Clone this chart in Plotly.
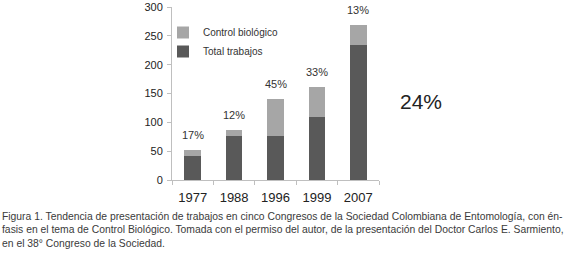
import plotly.graph_objects as go

years = ["1977", "1988", "1996", "1999", "2007"]
total_trabajos = [42, 77, 77, 109, 234]
control_biologico = [10, 10, 63, 53, 34]
porcentajes = ["17%", "12%", "45%", "33%", "13%"]
y_ticks = [0, 50, 100, 150, 200, 250, 300]

caption = ("Figura 1. Tendencia de presentación de trabajos en cinco Congresos de la Sociedad Colombiana de Entomología, con én-<br>"
           "fasis en el tema de Control Biológico. Tomada con el permiso del autor, de la presentación del Doctor Carlos E. Sarmiento,<br>"
           "en el 38° Congreso de la Sociedad.")

L, R, T, B = 172, 201, 7, 84
PW, PH = 580 - L - R, 264 - T - B


def px(x):
    return (x - L) / PW


def py(y):
    return (264 - B - y) / PH


fig = go.Figure()
fig.add_trace(go.Bar(x=years, y=total_trabajos, name="Total trabajos",
                     marker=dict(color="#595959", line=dict(width=0))))
fig.add_trace(go.Bar(x=years, y=control_biologico, name="Control biológico",
                     marker=dict(color="#a6a6a6", line=dict(width=0))))

tops = [a + b for a, b in zip(total_trabajos, control_biologico)]
for i, (top, p) in enumerate(zip(tops, porcentajes)):
    fig.add_annotation(x=i, y=top, text=p, showarrow=False, yanchor="bottom",
                       yshift=7, font=dict(size=11, color="#333333", family="Liberation Sans"))

fig.add_annotation(xref="paper", yref="paper", x=px(421), y=py(101), text="24%",
                   showarrow=False, xanchor="center", yanchor="middle",
                   font=dict(size=21, color="#222222", family="Liberation Sans"))

fig.add_annotation(xref="paper", yref="paper", x=px(0), y=py(209), text=caption,
                   showarrow=False, xanchor="left", yanchor="top", align="left",
                   font=dict(size=10.35, color="#3a3a3a", family="Liberation Sans"))

fig.update_layout(
    width=580, height=264,
    margin=dict(l=L, r=R, t=T, b=B, autoexpand=False),
    barmode="stack", bargap=0.6,
    paper_bgcolor="white", plot_bgcolor="white",
    showlegend=True,
    legend=dict(x=px(163), y=py(18), xanchor="left", yanchor="top",
                traceorder="reversed", bgcolor="rgba(0,0,0,0)",
                font=dict(size=10, color="#333333", family="Liberation Sans"),
                itemwidth=30, tracegroupgap=0),
    xaxis=dict(type="category", range=[-0.5, 4.5], automargin=False,
               showline=True, linecolor="#bfbfbf",
               ticks="outside", tickson="boundaries", ticklen=4, tickcolor="#bfbfbf",
               ticklabelstandoff=5,
               tickfont=dict(size=13, color="#222222", family="Liberation Sans"),
               showgrid=False),
    yaxis=dict(range=[0, 300], tickvals=y_ticks, automargin=False,
               showline=True, linecolor="#bfbfbf",
               ticks="outside", ticklen=4, tickcolor="#bfbfbf", showgrid=False,
               zeroline=False, ticklabelstandoff=2,
               tickfont=dict(size=11, color="#222222", family="Liberation Sans")),
)

fig.write_html("out.html", config={"displayModeBar": False},
               post_script="document.body.style.margin='0';")
